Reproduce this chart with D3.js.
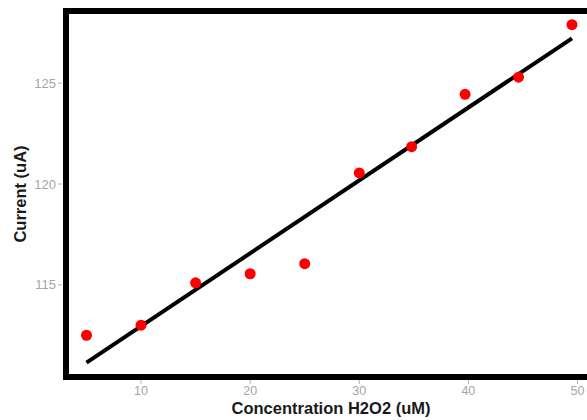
<!DOCTYPE html>
<html lang="en">
  <head>
    <meta charset="UTF-8" />
    <title>Current vs H2O2</title>
    <style>
      body {
        margin: 0;
        background: #fff;
      }
      svg {
        display: block;
        font-family: "Liberation Sans", Arial, sans-serif;
      }
    </style>
  </head>

  <body>
    <script src="https://cdn.jsdelivr.net/npm/d3@7"></script>
    <script>
      // donnees
      const concentration = [5, 10, 15, 20, 25, 30, 34.8, 39.7, 44.6, 49.5];
      const courant = [112.5, 113.0, 115.1, 115.55, 116.05, 120.55, 121.85, 124.45, 125.3, 127.9];
      const ticks_x = [10, 20, 30, 40, 50];
      const ticks_y = [115, 120, 125];

      const largeur = 587;
      const hauteur = 420;
      const marge = { top: 11, left: 66 };
      const w = 530;
      const h = 366;

      const svg = d3
        .select("body")
        .append("svg")
        .attr("width", largeur)
        .attr("height", hauteur);

      const x = d3.scaleLinear().domain([3.12, 51.7]).range([0, w]);
      const y = d3.scaleLinear().domain([110.43, 128.58]).range([h, 0]);

      const graph = svg
        .append("g")
        .attr("transform", `translate(${marge.left}, ${marge.top})`);

      const points = concentration.map((c, i) => ({ x: c, y: courant[i] }));

      // droite de regression (moindres carres)
      const mx = d3.mean(points, (d) => d.x);
      const my = d3.mean(points, (d) => d.y);
      const pente =
        d3.sum(points, (d) => (d.x - mx) * (d.y - my)) /
        d3.sum(points, (d) => (d.x - mx) ** 2);
      const origine = my - pente * mx;
      const xmin = d3.min(concentration);
      const xmax = d3.max(concentration);

      // axe y
      const axeY = graph.append("g");
      ticks_y.forEach((t) => {
        axeY
          .append("line")
          .attr("x1", -8)
          .attr("x2", -4)
          .attr("y1", y(t))
          .attr("y2", y(t))
          .attr("stroke", "#b3b3b3")
          .attr("stroke-width", 1);
        axeY
          .append("text")
          .attr("x", -10)
          .attr("y", y(t))
          .attr("dy", "0.35em")
          .attr("text-anchor", "end")
          .attr("font-size", 13)
          .attr("fill", "#a6a6a6")
          .text(t);
      });

      // axe x
      const axeX = graph.append("g").attr("transform", `translate(0, ${h})`);
      ticks_x.forEach((t) => {
        axeX
          .append("line")
          .attr("x1", x(t))
          .attr("x2", x(t))
          .attr("y1", 3)
          .attr("y2", 7)
          .attr("stroke", "#b3b3b3")
          .attr("stroke-width", 1);
        axeX
          .append("text")
          .attr("x", x(t))
          .attr("y", 18)
          .attr("text-anchor", "middle")
          .attr("font-size", 12.5)
          .attr("fill", "#a6a6a6")
          .text(t);
      });

      // droite
      graph
        .append("line")
        .attr("x1", x(xmin))
        .attr("y1", y(origine + pente * xmin))
        .attr("x2", x(xmax))
        .attr("y2", y(origine + pente * xmax))
        .attr("stroke", "#000")
        .attr("stroke-width", 4);

      // points
      graph
        .selectAll("circle")
        .data(points)
        .enter()
        .append("circle")
        .attr("cx", (d) => x(d.x))
        .attr("cy", (d) => y(d.y))
        .attr("r", 5.5)
        .attr("fill", "#ff0000");

      // cadre
      graph
        .append("rect")
        .attr("x", 0)
        .attr("y", 0)
        .attr("width", w)
        .attr("height", h)
        .attr("fill", "none")
        .attr("stroke", "#000")
        .attr("stroke-width", 6);

      // titres
      svg
        .append("text")
        .attr("x", marge.left + w / 2)
        .attr("y", 414)
        .attr("text-anchor", "middle")
        .attr("font-size", 16.5)
        .attr("font-weight", "bold")
        .attr("fill", "#1a1a1a")
        .text("Concentration H2O2 (uM)");

      svg
        .append("text")
        .attr("transform", `translate(26, ${marge.top + h / 2}) rotate(-90)`)
        .attr("text-anchor", "middle")
        .attr("font-size", 16.5)
        .attr("font-weight", "bold")
        .attr("fill", "#1a1a1a")
        .text("Current (uA)");
    </script>
  </body>
</html>
